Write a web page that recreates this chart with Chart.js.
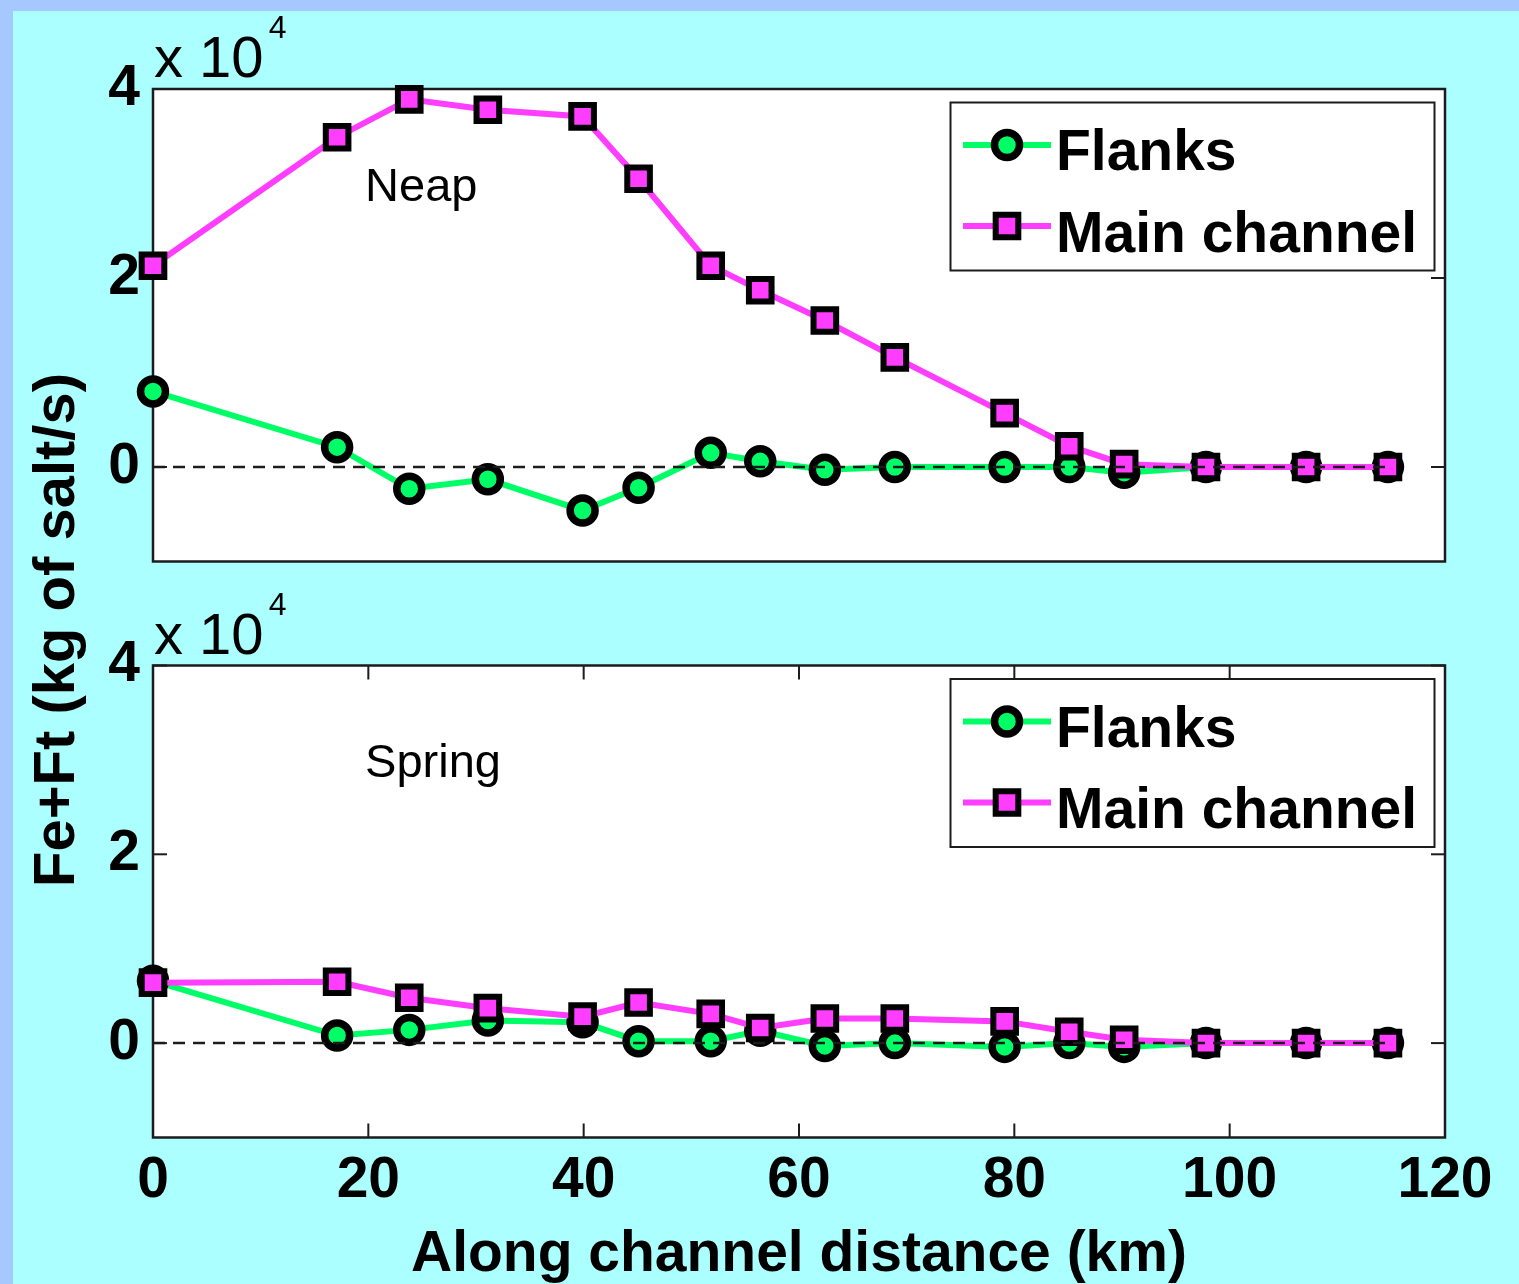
<!DOCTYPE html>
<html>
<head>
<meta charset="utf-8">
<script src="https://cdn.jsdelivr.net/npm/chart.js@4/dist/chart.umd.min.js"></script>
<style>
  html, body { margin: 0; padding: 0; }
  body { width: 1519px; height: 1284px; background: #a5c9ff; position: relative; overflow: hidden; }
  #panel { position: absolute; left: 13px; top: 11px; right: 0; bottom: 0; background: #abffff; }
  .layer { position: absolute; left: 0; top: 0; width: 1519px; height: 1284px; }
</style>
</head>
<body>
<div id="panel"></div>
<div class="layer"><canvas id="neap" width="1519" height="1284"></canvas></div>
<div class="layer"><canvas id="spring" width="1519" height="1284"></canvas></div>
<script>
// Along-channel stations (km)
const distanceKm = [0, 17.1, 23.8, 31.1, 39.9, 45.1, 51.8, 56.4, 62.4, 68.9, 79.1, 85.1, 90.2, 97.8, 107.1, 114.7];

// Fe+Ft salt flux (kg of salt / s), neap tide
const neapFlanks = [8000, 2100, -2300, -1300, -4600, -2200, 1500, 600, -300, 0, 0, 0, -600, 0, 0, 0];
const neapMain   = [21300, 34900, 38900, 37800, 37100, 30500, 21300, 18700, 15500, 11600, 5700, 2200, 300, 0, 0, 0];

// Fe+Ft salt flux (kg of salt / s), spring tide
const springFlanks = [6600, 800, 1400, 2400, 2200, 200, 200, 1300, -300, 0, -400, 0, -400, 0, 0, 0];
const springMain   = [6400, 6500, 4800, 3700, 2800, 4300, 3100, 1600, 2600, 2600, 2300, 1200, 350, 0, 0, 0];

// Axis ticks
const xTickValues = [0, 20, 40, 60, 80, 100, 120];
const yTickValues = [0, 20000, 40000];
const yScaleFactor = 10000;

const seriesNames = ['Flanks', 'Main channel'];
const FONT = "'Liberation Sans', Arial, Helvetica, sans-serif";
const GREEN = '#00ff66';
const MAGENTA = '#ff3dff';
const INK = '#1c1c1c';

function pts(xs, ys) { return xs.map((x, i) => ({ x: x, y: ys[i] })); }

function makeDatasets(flanks, main) {
  return [
    {
      label: 'zero',
      data: [{ x: distanceKm[0], y: 0 }, { x: distanceKm[distanceKm.length - 1], y: 0 }],
      borderColor: INK, borderWidth: 2.5, borderDash: [12, 8],
      pointRadius: 0, order: 0, clip: false
    },
    {
      label: seriesNames[1],
      data: pts(distanceKm, main),
      borderColor: MAGENTA, borderWidth: 6, tension: 0,
      pointStyle: 'rect', pointRadius: 16, pointBorderWidth: 6,
      pointBackgroundColor: MAGENTA, pointBorderColor: '#000',
      order: 1, clip: false
    },
    {
      label: seriesNames[0],
      data: pts(distanceKm, flanks),
      borderColor: GREEN, borderWidth: 6, tension: 0,
      pointStyle: 'circle', pointRadius: 12.5, pointBorderWidth: 7.5,
      pointBackgroundColor: GREEN, pointBorderColor: '#000',
      order: 2, clip: false
    }
  ];
}

function line(ctx, x1, y1, x2, y2) {
  ctx.beginPath(); ctx.moveTo(x1, y1); ctx.lineTo(x2, y2); ctx.stroke();
}

// White axes box, frame and inward tick marks
const framePlugin = {
  id: 'frame',
  beforeDatasetsDraw(chart, args, opts) {
    const { ctx, chartArea: a, scales: { x, y } } = chart;
    ctx.save();
    ctx.strokeStyle = INK;
    ctx.lineWidth = 2;
    const tl = 14;
    for (const v of yTickValues) {
      const py = y.getPixelForValue(v);
      line(ctx, a.left, py, a.left + tl, py);
      line(ctx, a.right, py, a.right - tl, py);
    }
    if (opts.xTicks) {
      for (const v of xTickValues) {
        const px = x.getPixelForValue(v);
        line(ctx, px, a.bottom, px, a.bottom - tl);
        line(ctx, px, a.top, px, a.top + tl);
      }
    }
    ctx.lineWidth = 2.5;
    ctx.strokeRect(a.left, a.top, a.right - a.left, a.bottom - a.top);
    ctx.restore();
  },
  beforeDraw(chart) {
    const { ctx, chartArea: a } = chart;
    ctx.save();
    ctx.fillStyle = '#ffffff';
    ctx.fillRect(a.left, a.top, a.right - a.left, a.bottom - a.top);
    ctx.restore();
  }
};

// Legend box, panel label, exponent label and shared y title
const decorPlugin = {
  id: 'decor',
  afterDraw(chart, args, opts) {
    const { ctx, chartArea: a, scales: { x, y } } = chart;
    ctx.save();

    // legend
    const lx = a.right - 494.5, ly = a.top + 13.5, lw = 484, lh = 168;
    ctx.fillStyle = '#fff';
    ctx.fillRect(lx, ly, lw, lh);
    ctx.strokeStyle = INK; ctx.lineWidth = 2;
    ctx.strokeRect(lx, ly, lw, lh);
    const entries = [chart.data.datasets[2], chart.data.datasets[1]];
    const rows = [a.top + 56, a.top + 137];
    const baselines = [a.top + 81, a.top + 162.5];
    entries.forEach((ds, i) => {
      ctx.strokeStyle = ds.borderColor; ctx.lineWidth = ds.borderWidth;
      line(ctx, a.right - 482, rows[i], a.right - 394, rows[i]);
      ctx.fillStyle = ds.pointBackgroundColor;
      ctx.strokeStyle = ds.pointBorderColor;
      ctx.lineWidth = ds.pointBorderWidth;
      Chart.helpers.drawPoint(ctx, { pointStyle: ds.pointStyle, radius: ds.pointRadius, borderWidth: ds.pointBorderWidth }, a.right - 438, rows[i]);
      ctx.fillStyle = '#000';
      ctx.font = 'bold 57px ' + FONT;
      ctx.textAlign = 'left'; ctx.textBaseline = 'alphabetic';
      ctx.fillText(ds.label, a.right - 389, baselines[i]);
    });

    // panel label
    ctx.fillStyle = '#000';
    ctx.font = '47px ' + FONT;
    ctx.textAlign = 'left'; ctx.textBaseline = 'alphabetic';
    ctx.fillText(opts.label, x.getPixelForValue(19.7), y.getPixelForValue(28200));

    // exponent label
    ctx.font = '58px ' + FONT;
    const base = 'x 10';
    ctx.fillText(base, a.left + 1, a.top - 12);
    const w = ctx.measureText(base).width;
    ctx.font = '32px ' + FONT;
    ctx.fillText('4', a.left + 1 + w + 5, a.top - 51);

    if (opts.yTitle) {
      ctx.font = 'bold 58px ' + FONT;
      ctx.translate(74, 630);
      ctx.rotate(-Math.PI / 2);
      ctx.textAlign = 'center';
      ctx.fillText(opts.yTitle, 0, 0);
    }
    ctx.restore();
  }
};

function yScale() {
  return {
    type: 'linear', min: -10000, max: 40000,
    grid: { display: false, drawTicks: false }, border: { display: false },
    afterBuildTicks(s) { s.ticks = yTickValues.map(v => ({ value: v })); },
    ticks: {
      font: { family: FONT, size: 57, weight: 'bold' }, color: '#000', padding: 13,
      callback: v => String(v / yScaleFactor)
    },
    afterFit(s) { s.width = 153; }
  };
}

const common = {
  type: 'line',
  plugins: [framePlugin, decorPlugin]
};

// Neap panel
new Chart(document.getElementById('neap'), {
  ...common,
  data: { datasets: makeDatasets(neapFlanks, neapMain) },
  options: {
    responsive: false, animation: false, events: [],
    layout: { padding: { left: 0, top: 89, right: 74, bottom: 1284 - 561.5 } },
    scales: {
      x: {
        type: 'linear', min: 0, max: 120,
        grid: { display: false, drawTicks: false }, border: { display: false },
        ticks: { display: false },
        afterFit(s) { s.height = 0; }
      },
      y: yScale()
    },
    plugins: {
      legend: { display: false }, tooltip: { enabled: false },
      frame: { xTicks: false },
      decor: { label: 'Neap', yTitle: 'Fe+Ft (kg of salt/s)' }
    }
  }
});

// Spring panel
new Chart(document.getElementById('spring'), {
  ...common,
  data: { datasets: makeDatasets(springFlanks, springMain) },
  options: {
    responsive: false, animation: false, events: [],
    layout: { padding: { left: 0, top: 665.5, right: 74, bottom: 0 } },
    scales: {
      x: {
        type: 'linear', min: 0, max: 120,
        grid: { display: false, drawTicks: false }, border: { display: false },
        afterBuildTicks(s) { s.ticks = xTickValues.map(v => ({ value: v })); },
        ticks: {
          font: { family: FONT, size: 57, weight: 'bold' }, color: '#000', padding: 10,
          maxRotation: 0, autoSkip: false
        },
        title: {
          display: true, text: 'Along channel distance (km)', color: '#000',
          font: { family: FONT, size: 57, weight: 'bold', lineHeight: 1 },
          padding: { top: 0, bottom: 0 }
        },
        afterFit(s) { s.height = 1284 - 1137.5; }
      },
      y: yScale()
    },
    plugins: {
      legend: { display: false }, tooltip: { enabled: false },
      frame: { xTicks: true },
      decor: { label: 'Spring', yTitle: null }
    }
  }
});
</script>
</body>
</html>
